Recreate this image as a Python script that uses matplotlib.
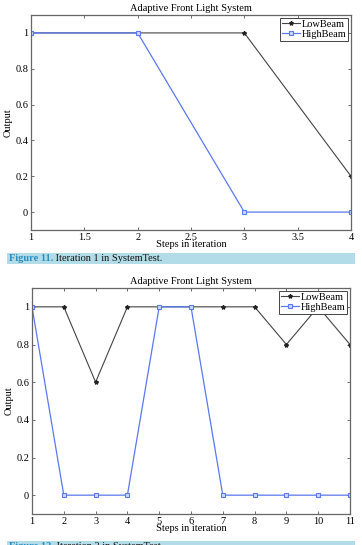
import matplotlib
matplotlib.use("Agg")
import matplotlib.pyplot as plt
from matplotlib.patches import Rectangle

plt.rcParams['font.family'] = ['Liberation Serif', 'DejaVu Serif']

# iteration 1
steps1 = [1, 2, 3, 4]
low1 = [1, 1, 1, 0.2]
high1 = [1, 1, 0, 0]
xticks1 = [1, 1.5, 2, 2.5, 3, 3.5, 4]

# iteration 2
steps2 = [1, 2, 3, 4, 5, 6, 7, 8, 9, 10, 11]
low2 = [1, 1, 0.6, 1, 1, 1, 1, 1, 0.8, 1, 0.8]
high2 = [1, 0, 0, 0, 1, 1, 0, 0, 0, 0, 0]
xticks2 = [1, 2, 3, 4, 5, 6, 7, 8, 9, 10, 11]

yticks = [0, 0.2, 0.4, 0.6, 0.8, 1]
ytick_labels = ["0", "0.2", "0.4", "0.6", "0.8", "1"]

W, H = 362, 545
fig = plt.figure(figsize=(W / 100, H / 100), dpi=100)
fig.patch.set_facecolor("white")


def draw(rect, x, low, high, xticks, xlim):
    ax = fig.add_axes(rect)
    ax.plot(x, low, color="#444444", lw=0.8, marker="*", ms=3,
            markeredgecolor="#222222", markerfacecolor="#222222", label="LowBeam")
    ax.plot(x, high, color="#5a78f0", lw=0.9, marker="s", ms=3.5,
            markerfacecolor="#d0d8fa", markeredgecolor="#5a78f0", markeredgewidth=0.8,
            label="HighBeam")
    ax.set_xlim(*xlim)
    ax.set_ylim(-0.1, 1.1)
    ax.set_xticks(xticks)
    ax.set_xticklabels([("%g" % t) for t in xticks])
    ax.set_yticks(yticks)
    ax.set_yticklabels(ytick_labels)
    ax.tick_params(direction="in", top=True, right=True, labelsize=7.5,
                   length=2.5, width=0.6, color="#555555", pad=2)
    for s in ax.spines.values():
        s.set_color("#666666")
        s.set_linewidth(0.9)
    ax.set_title("Adaptive Front Light System", fontsize=7.5, pad=3)
    ax.set_xlabel("Steps in iteration", fontsize=7.5, labelpad=-1.5)
    ax.set_ylabel("Output", fontsize=7.5, labelpad=2)
    leg = ax.legend(loc="upper right", fontsize=7.5, handlelength=1.7,
                    handletextpad=0.15, borderpad=0.2, labelspacing=0.05,
                    fancybox=False, framealpha=1, borderaxespad=0.25)
    leg.get_frame().set_edgecolor("#444444")
    leg.get_frame().set_linewidth(0.7)
    return ax


def fx(px):
    return px / W


def fy(py):
    return 1 - py / H


draw([fx(31), fy(230), fx(320), (230 - 15) / H], steps1, low1, high1, xticks1, (1, 4))
draw([fx(32), fy(514), fx(318), (514 - 288) / H], steps2, low2, high2, xticks2, (1, 11))

# captions
for top, num, txt in [(253, "Figure 11.", " Iteration 1 in SystemTest."),
                      (541, "Figure 12.", " Iteration 2 in SystemTest.")]:
    fig.patches.append(Rectangle((fx(7), fy(top + 10.5)), fx(348), 10.5 / H,
                                 transform=fig.transFigure, facecolor="#b2dde8",
                                 edgecolor="none", zorder=0))
    t1 = fig.text(fx(9), fy(top + 5.5), num, fontsize=7.5, color="#2a8fc0",
                  fontweight="bold", va="center", ha="left")
    fig.canvas.draw()
    bb = t1.get_window_extent()
    fig.text(bb.x1 / W, fy(top + 5.5), txt, fontsize=7.5, color="#111111",
             va="center", ha="left")

fig.savefig("out.png", dpi=100)
